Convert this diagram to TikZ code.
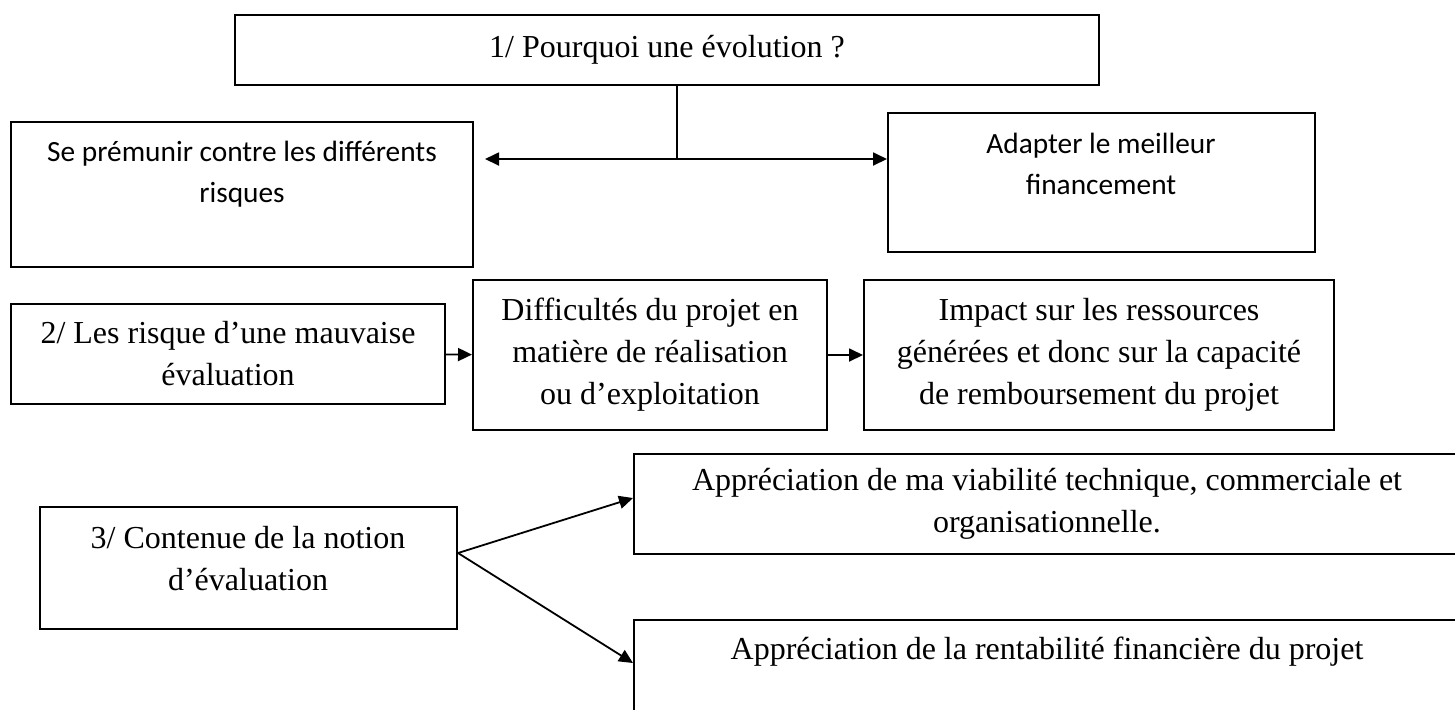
\documentclass[tikz,border=0pt]{standalone}
\usepackage{fontspec}
\setmainfont{Liberation Serif}
\newfontfamily\calibri{Carlito}
\usetikzlibrary{arrows.meta,positioning}

\begin{document}
\begin{tikzpicture}[
  x=0.5pt,y=-0.5pt,
  box/.style={draw,line width=1pt,inner sep=0pt,align=center,font=\fontsize{16}{21}\selectfont},
  serif/.style={align=center,inner sep=0pt,font=\fontsize{16}{21}\selectfont},
  sans/.style={align=center,inner sep=0pt,font=\calibri\fontsize{14.67}{20.5}\selectfont},
  arr/.style={-{Triangle[length=7pt,width=6.5pt]},line width=0.9pt}
]
\fill[white] (0,0) rectangle (1455,709);
\useasboundingbox (0,0) rectangle (1455,709);
\clip (0,0) rectangle (1455,709);

\node[box,minimum width=432pt,minimum height=35pt] (why) at (667,50) {1/ Pourquoi une évolution ?};
\node[box,minimum width=231pt,minimum height=72.5pt] (risk) at (242,194.5) {};
\node[sans] (risktxt) at (242,174) {Se prémunir contre les différents\\risques};
\node[box,minimum width=213.5pt,minimum height=69.5pt] (adapt) at (1101.5,182.5) {};
\node[sans] (adapttxt) at (1101,164) {Adapter le meilleur\\financement};

\node[box,minimum width=217pt,minimum height=50pt] (bad) at (228,354) {2/ Les risque d’une mauvaise\\évaluation};
\node[box,minimum width=177pt,minimum height=75pt] (diff) at (650,355) {Difficultés du projet en\\matière de réalisation\\ou d’exploitation};
\node[box,minimum width=235pt,minimum height=75pt] (impact) at (1099,355) {Impact sur les ressources\\générées et donc sur la capacité\\de remboursement du projet};

\node[box,minimum width=208.5pt,minimum height=61pt] (cont) at (248.5,568) {};
\node[serif] (conttxt) at (248,559) {3/ Contenue de la notion\\d’évaluation};
\node[box,minimum width=413pt,minimum height=50pt] (viab) at (1047,504) {Appréciation de ma viabilité technique, commerciale et\\organisationnelle.};
\node[box,minimum width=413pt,minimum height=47pt] (rent) at (1047,667) {};
\node[serif] (renttxt) at (1047,652) {Appréciation de la rentabilité financière du projet};

\coordinate (split) at (677,159);
\draw[line width=0.9pt] (split |- why.south) -- (split);
\draw[arr] (split) -- (adapt.west |- split);
\draw[arr,shorten >=5.5pt] (split) -- (risk.east |- split);

\draw[arr] (bad) -- (diff);
\draw[arr] (diff) -- (impact);

\draw[arr] ([yshift=7.5pt]cont.east) -- ([yshift=3pt]viab.west);
\draw[arr] ([yshift=7.5pt]cont.east) -- ([yshift=2pt]rent.west);
\end{tikzpicture}
\end{document}
